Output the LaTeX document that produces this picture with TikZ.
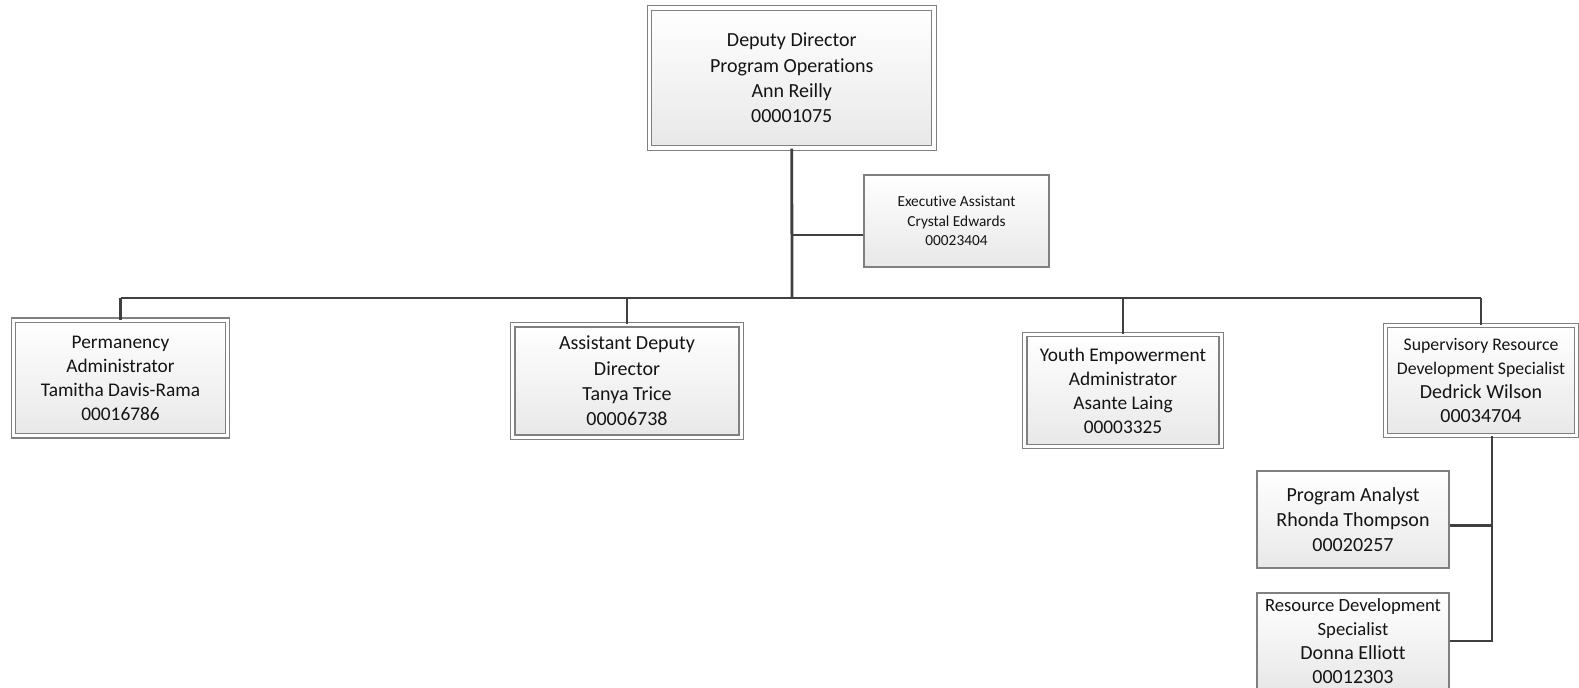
\documentclass[tikz,border=0pt]{standalone}
\usepackage{fontspec}
\setmainfont[Ligatures=NoCommon]{Carlito}
\usepackage{tikz}
\usetikzlibrary{calc}

\definecolor{boxline}{RGB}{128,128,128}
\definecolor{boxshade}{RGB}{232,232,232}
\definecolor{linkgray}{RGB}{64,64,64}
\definecolor{txtgray}{RGB}{20,20,20}

\tikzset{
  posbox/.style={draw=boxline, line width=0.8pt, top color=white, bottom color=boxshade,
    align=center, inner sep=0pt, text=txtgray, font=\fontsize{15}{19}\selectfont},
  dblbox/.style={posbox, double=white, double distance=2.6pt},
  link/.style={draw=linkgray, line width=2.1pt},
}

\begin{document}
\begin{tikzpicture}[x=0.75pt,y=0.75pt,yscale=-1,xscale=1]
        \useasboundingbox (0,0) rectangle (1579,688);
        %Box [id:dd]
        \node [dblbox, minimum width=213.4pt, minimum height=105pt] (dd) at (791.75,78) {Deputy Director\\Program Operations\\Ann Reilly\\00001075};
        %Box [id:ea]
        \node [posbox, minimum width=138.75pt, minimum height=69pt, font=\fontsize{11.5}{14.6}\selectfont] (ea) at (956.5,221) {Executive Assistant\\Crystal Edwards\\00023404};
        %Box [id:pa]
        \node [dblbox, minimum width=160.5pt, minimum height=86.6pt, font=\fontsize{14.5}{18}\selectfont] (pa) at (120.5,378) {Permanency\\Administrator\\Tamitha Davis-Rama\\00016786};
        %Box [id:ad]
        \node [dblbox, minimum width=171.4pt, minimum height=84.4pt] (ad) at (627,381) {Assistant Deputy\\Director\\Tanya Trice\\00006738};
        %Box [id:ye]
        \node [dblbox, minimum width=147.4pt, minimum height=84pt, font=\fontsize{14.5}{18}\selectfont] (ye) at (1123,390.5) {Youth Empowerment\\Administrator\\Asante Laing\\00003325};
        %Box [id:sr]
        \node [dblbox, minimum width=143.25pt, minimum height=82.5pt, font=\fontsize{15}{18}\selectfont] (sr) at (1481,380.5) {{\fontsize{13.3}{18}\selectfont Supervisory Resource}\\{\fontsize{13.3}{18}\selectfont Development Specialist}\\Dedrick Wilson\\00034704};
        %Box [id:pan]
        \node [posbox, minimum width=144pt, minimum height=72.75pt] (pan) at (1353,519.5) {Program Analyst\\Rhonda Thompson\\00020257};
        %Box [id:rd]
        \node [posbox, minimum width=144pt, minimum height=72pt, font=\fontsize{15}{18}\selectfont] (rd) at (1353,641) {{\fontsize{14}{18}\selectfont Resource Development}\\{\fontsize{14}{18}\selectfont Specialist}\\Donna Elliott\\00012303};

        %Joints
        \coordinate (bus) at (792,298);
        \coordinate (eaj) at (792,235);
        \coordinate (srb) at ([xshift=8.25pt]sr.south);

        %Lines
        \draw [link] (dd.south) -- (bus);
        \draw [link, line width=1.6pt] (eaj) -- (eaj -| ea.west);
        \draw [link] (pa.north |- bus) -- (sr.north |- bus);
        \foreach \n in {pa,ad,ye,sr}
          \draw [link] (\n.north |- bus) -- (\n.north);
        \draw [link] (srb) |- (rd.east);
        \draw [link] ([yshift=4.5pt]pan.east) -- ([yshift=4.5pt]pan.east -| srb);
\end{tikzpicture}
\end{document}
